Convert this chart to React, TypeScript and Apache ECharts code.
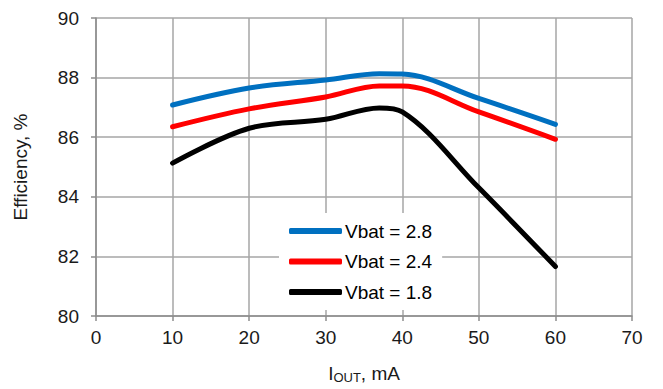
import React, { useEffect, useRef } from "react";
import * as echarts from "echarts";

const currents = [10, 20, 30, 37, 40, 50, 60];
const vbat28 = [87.08, 87.65, 87.92, 88.13, 88.12, 87.3, 86.43];
const vbat24 = [86.35, 86.95, 87.35, 87.72, 87.72, 86.85, 85.93];
const vbat18 = [85.13, 86.3, 86.6, 86.98, 86.85, 84.3, 81.66];
const seriesNames = ["Vbat = 2.8", "Vbat = 2.4", "Vbat = 1.8"];
const seriesColors = ["#0070C0", "#FF0000", "#000000"];

const pairs = (ys: number[]) => currents.map((x, i) => [x, ys[i]]);

export default function App() {
  const ref = useRef<HTMLDivElement>(null);
  useEffect(() => {
    if (!ref.current) return;
    const chart = echarts.init(ref.current, undefined, { renderer: "svg" });
    const font = "Liberation Sans, Arial, sans-serif";
    const datasets = [vbat28, vbat24, vbat18];
    chart.setOption({
      animation: false,
      backgroundColor: "#ffffff",
      textStyle: { fontFamily: font },
      grid: { left: 96, right: 31, top: 18, bottom: 69 },
      xAxis: {
        type: "value",
        min: 0,
        max: 70,
        interval: 10,
        axisLine: { lineStyle: { color: "#8c8c8c", width: 1.5 } },
        axisTick: { show: true, length: 5, lineStyle: { color: "#8c8c8c", width: 1.5 } },
        splitLine: { show: true, lineStyle: { color: "#a6a6a6", width: 1.5 } },
        axisLabel: { color: "#1a1a1a", fontSize: 19, margin: 12, fontFamily: font },
        name: "{a|I}{sub|OUT}{a|, mA}",
        nameLocation: "middle",
        nameGap: 46,
        nameTextStyle: {
          rich: {
            a: { fontSize: 19, color: "#1a1a1a", fontFamily: font },
            sub: { fontSize: 13, color: "#1a1a1a", fontFamily: font, verticalAlign: "bottom", padding: [9, 0, 0, 0] },
          },
        },
      },
      yAxis: {
        type: "value",
        min: 80,
        max: 90,
        interval: 2,
        axisLine: { show: true, lineStyle: { color: "#8c8c8c", width: 1.5 } },
        axisTick: { show: true, length: 5, lineStyle: { color: "#8c8c8c", width: 1.5 } },
        splitLine: { show: true, lineStyle: { color: "#a6a6a6", width: 1.5 } },
        axisLabel: { color: "#1a1a1a", fontSize: 19, margin: 17, fontFamily: font },
        name: "Efficiency, %",
        nameLocation: "middle",
        nameGap: 66,
        nameRotate: 90,
        nameTextStyle: { fontSize: 19, color: "#1a1a1a", fontFamily: font },
      },
      legend: {
        orient: "vertical",
        left: 279,
        top: 213,
        padding: [6, 10],
        backgroundColor: "#ffffff",
        itemWidth: 53,
        itemHeight: 6,
        itemGap: 6.5,
        icon: "roundRect",
        textStyle: { fontSize: 19, color: "#000000", lineHeight: 24, fontFamily: font, padding: [0, 0, 0, -2] },
        data: seriesNames,
      },
      series: seriesNames.map((name, i) => ({
        name,
        type: "line",
        data: pairs(datasets[i]),
        smooth: 0.35,
        symbol: "none",
        itemStyle: { color: seriesColors[i] },
        lineStyle: { color: seriesColors[i], width: 5, cap: "round", join: "round" },
        z: 3 - i + 2,
      })),
    });
    return () => chart.dispose();
  }, []);
  return <div ref={ref} style={{ width: 663, height: 389, position: "absolute", left: 0, top: 0 }} />;
}
